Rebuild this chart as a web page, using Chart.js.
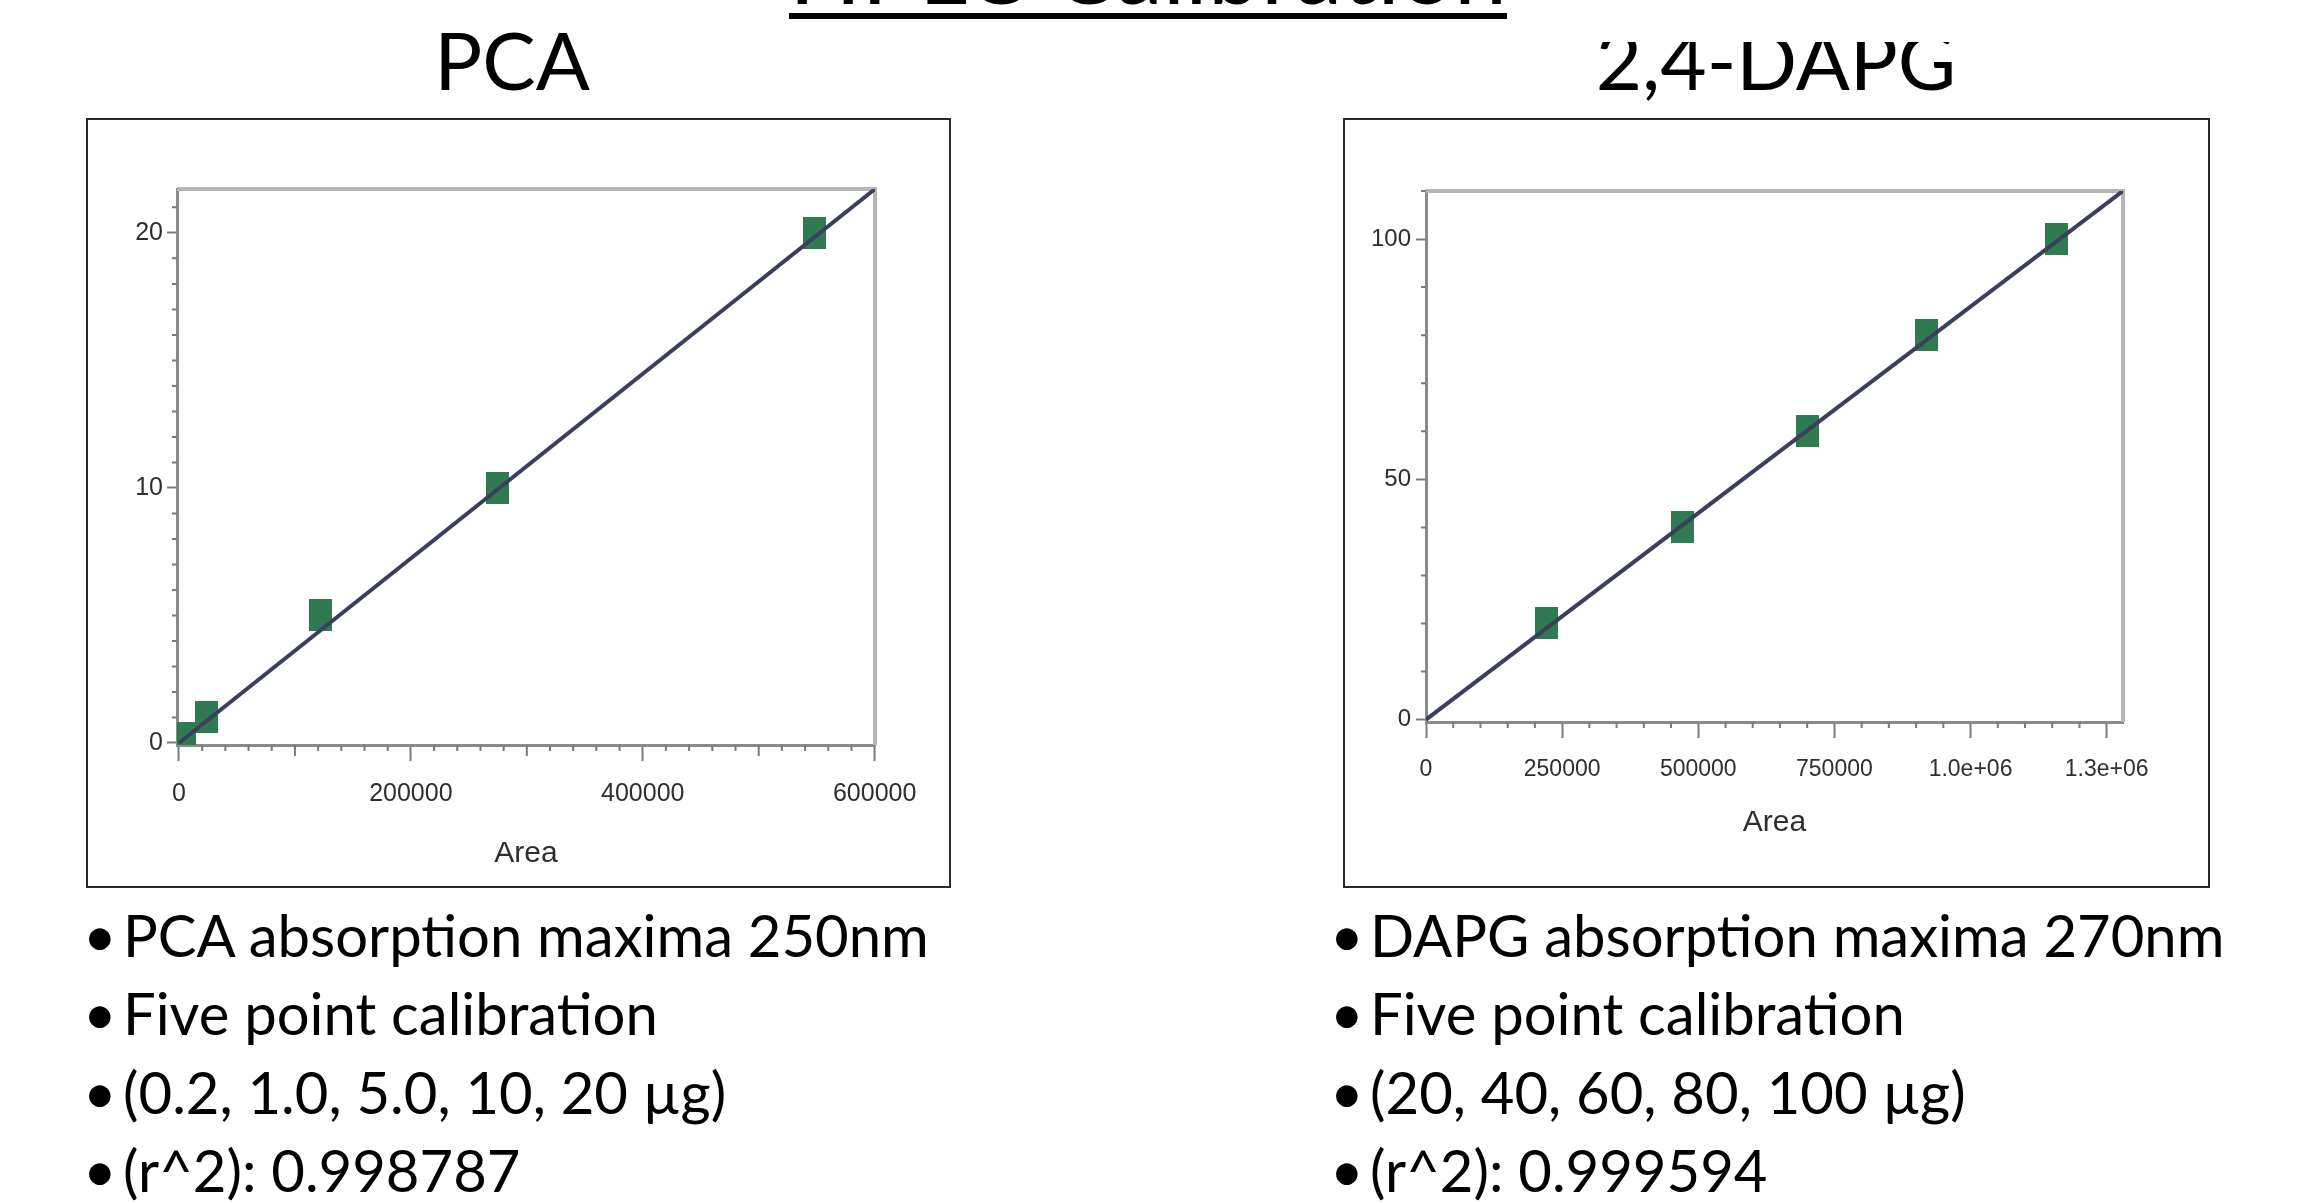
<!DOCTYPE html>
<html>
<head>
<meta charset="utf-8">
<script src="https://cdn.jsdelivr.net/npm/chart.js@4.4.0/dist/chart.umd.min.js"></script>
<style>
  html, body { margin: 0; padding: 0; background: #fff; }
  body { width: 2315px; height: 1203px; position: relative; overflow: hidden; font-family: Lato, 'Open Sans', sans-serif; color: #000; }
  .heading { position: absolute; left: 548px; width: 1200px; top: -80px; text-align: center; font-size: 95px; line-height: 95px;
             text-decoration: underline; text-decoration-thickness: 6px; text-underline-offset: 9px; }
  .sub { position: absolute; width: 400px; text-align: center; font-size: 80px; line-height: 80px; }
  .clip { position: absolute; overflow: hidden; }
  .frame { position: absolute; top: 118px; height: 770px; border: 2px solid #2a2a2a; box-sizing: border-box; }
  .frame div { position: relative; width: 100%; height: 100%; }
  .bullets { position: absolute; top: 896px; font-size: 58px; line-height: 78.3px; white-space: nowrap; }
  .bullets span { display: inline-block; width: 40px; margin-left: -4px; }
</style>
</head>
<body>
<div class="heading">HPLC Calibration</div>
<div class="sub" style="left:312px; top:19px;">PCA</div>
<div class="clip" style="left:1576px; top:42px; width:400px; height:80px;">
  <div class="sub" style="left:0; top:-23px;">2,4-DAPG</div>
</div>

<div class="frame" style="left:86px; width:865px;"><div><canvas id="pca-chart"></canvas></div></div>
<div class="frame" style="left:1343px; width:867px;"><div><canvas id="dapg-chart"></canvas></div></div>

<div class="bullets" style="left:87px;">
  <div><span>•</span>PCA absorption maxima 250nm</div>
  <div><span>•</span>Five point calibration</div>
  <div><span>•</span>(0.2, 1.0, 5.0, 10, 20 µg)</div>
  <div><span>•</span>(r^2): 0.998787</div>
</div>
<div class="bullets" style="left:1334px;">
  <div><span>•</span>DAPG absorption maxima 270nm</div>
  <div><span>•</span>Five point calibration</div>
  <div><span>•</span>(20, 40, 60, 80, 100 µg)</div>
  <div><span>•</span>(r^2): 0.999594</div>
</div>

<script>
// PCA calibration (amount vs peak area)
const pcaArea = [5000, 24000, 122000, 275000, 548000];
const pcaAmount = [0.2, 1.0, 5.0, 10, 20];
const pcaFitArea = [0, 600300];
const pcaFitAmount = [0, 21.72];
const pcaXTicks = [0, 200000, 400000, 600000];
const pcaXLabels = ['0', '200000', '400000', '600000'];
const pcaYTicks = [0, 10, 20];
const pcaYLabels = ['0', '10', '20'];

// 2,4-DAPG calibration
const dapgArea = [222000, 471000, 701000, 920000, 1158000];
const dapgAmount = [20, 40, 60, 80, 100];
const dapgFitArea = [0, 1280000];
const dapgFitAmount = [0, 110];
const dapgXTicks = [0, 250000, 500000, 750000, 1000000, 1250000];
const dapgXLabels = ['0', '250000', '500000', '750000', '1.0e+06', '1.3e+06'];
const dapgYTicks = [0, 50, 100];
const dapgYLabels = ['0', '50', '100'];

const axisFont = "'Liberation Sans', Arial, sans-serif";

// small ticks between the labelled ones
const minorTicks = {
  id: 'minorTicks',
  afterDraw(chart, args, opts) {
    const ctx = chart.ctx;
    const xs = chart.scales.x;
    const ys = chart.scales.y;
    ctx.save();
    ctx.strokeStyle = '#7a7a7a';
    ctx.lineWidth = 2;
    ctx.beginPath();
    for (const t of opts.x) {
      const px = xs.getPixelForValue(t[0]);
      ctx.moveTo(px, xs.top);
      ctx.lineTo(px, xs.top + t[1]);
    }
    for (const t of opts.y) {
      const py = ys.getPixelForValue(t[0]);
      ctx.moveTo(ys.right, py);
      ctx.lineTo(ys.right - t[1], py);
    }
    ctx.stroke();
    ctx.restore();
  }
};

// light grey top and right edges of the plot box
const plotBox = {
  id: 'plotBox',
  beforeDatasetsDraw(chart) {
    const a = chart.chartArea;
    const ctx = chart.ctx;
    ctx.save();
    ctx.strokeStyle = '#b5b5b5';
    ctx.lineWidth = 4;
    ctx.beginPath();
    ctx.moveTo(a.left, a.top);
    ctx.lineTo(a.right, a.top);
    ctx.lineTo(a.right, a.bottom);
    ctx.stroke();
    ctx.restore();
  }
};

function makeMarker() {
  const c = document.createElement('canvas');
  c.width = 23;
  c.height = 32;
  const g = c.getContext('2d');
  g.fillStyle = '#2f7a50';
  g.fillRect(0, 0, 23, 32);
  return c;
}

function buildChart(id, d) {
  const marker = makeMarker();
  return new Chart(document.getElementById(id), {
    type: 'scatter',
    data: {
      datasets: [{
        data: d.fitX.map((x, i) => ({ x: x, y: d.fitY[i] })),
        showLine: true,
        borderColor: '#3c3e5e',
        borderWidth: 4,
        pointRadius: 0,
        order: 0
      }, {
        data: d.areas.map((x, i) => ({ x: x, y: d.amounts[i] })),
        pointStyle: marker,
        pointRadius: 12,
        order: 1
      }]
    },
    options: {
      responsive: true,
      maintainAspectRatio: false,
      animation: false,
      events: [],
      layout: { padding: { top: d.padTop, right: d.padRight, left: 0, bottom: 0 } },
      plugins: {
        legend: { display: false },
        tooltip: { enabled: false },
        minorTicks: { x: d.minorX, y: d.minorY }
      },
      scales: {
        x: {
          type: 'linear',
          min: d.xMin,
          max: d.xMax,
          afterBuildTicks: axis => { axis.ticks = d.xTicks.map(v => ({ value: v })); },
          afterFit: axis => { axis.height = d.xHeight; },
          ticks: {
            callback: (v, i) => d.xLabels[i],
            autoSkip: false,
            maxRotation: 0,
            padding: 18,
            color: '#2e2e2e',
            font: { family: axisFont, size: d.xFont }
          },
          grid: { drawOnChartArea: false, tickLength: 16, tickColor: '#7a7a7a', tickWidth: 2 },
          border: { color: '#8a8a8a', width: 3 },
          title: {
            display: true,
            text: 'Area',
            color: '#2e2e2e',
            font: { family: axisFont, size: 30 },
            padding: { top: 0, bottom: d.titlePad }
          }
        },
        y: {
          type: 'linear',
          min: d.yMin,
          max: d.yMax,
          afterBuildTicks: axis => { axis.ticks = d.yTicks.map(v => ({ value: v })); },
          afterFit: axis => { axis.width = d.yWidth; },
          ticks: {
            callback: (v, i) => d.yLabels[i],
            autoSkip: false,
            padding: d.yPad,
            color: '#2e2e2e',
            font: { family: axisFont, size: d.yFont }
          },
          grid: { drawOnChartArea: false, tickLength: 10, tickColor: '#7a7a7a', tickWidth: 2 },
          border: { color: '#8a8a8a', width: 3 }
        }
      }
    },
    plugins: [minorTicks, plotBox]
  });
}

const pcaMinorX = [];
for (let v = 20000; v < 600000; v += 20000) {
  if (v % 200000 !== 0) pcaMinorX.push([v, v % 100000 === 0 ? 11 : 6]);
}
const pcaMinorY = [];
for (let v = 1; v <= 21; v++) {
  if (v % 10 !== 0) pcaMinorY.push([v, 5]);
}
const dapgMinorX = [];
for (let v = 50000; v < 1280000; v += 50000) {
  if (v % 250000 !== 0) dapgMinorX.push([v, 6]);
}
const dapgMinorY = [];
for (let v = 10; v <= 110; v += 10) {
  if (v % 50 !== 0) dapgMinorY.push([v, 5]);
}

buildChart('pca-chart', {
  areas: pcaArea, amounts: pcaAmount, fitX: pcaFitArea, fitY: pcaFitAmount,
  xTicks: pcaXTicks, xLabels: pcaXLabels, yTicks: pcaYTicks, yLabels: pcaYLabels,
  xMin: -1700, xMax: 600300, yMin: -0.08, yMax: 21.72,
  minorX: pcaMinorX, minorY: pcaMinorY,
  padTop: 69, padRight: 74, xHeight: 141, yWidth: 89, titlePad: 14,
  xFont: 25, yFont: 25, yPad: 4
});

buildChart('dapg-chart', {
  areas: dapgArea, amounts: dapgAmount, fitX: dapgFitArea, fitY: dapgFitAmount,
  xTicks: dapgXTicks, xLabels: dapgXLabels, yTicks: dapgYTicks, yLabels: dapgYLabels,
  xMin: 0, xMax: 1280000, yMin: -0.5, yMax: 110,
  minorX: dapgMinorX, minorY: dapgMinorY,
  padTop: 71, padRight: 85, xHeight: 164, yWidth: 81, titlePad: 45,
  xFont: 23, yFont: 24, yPad: 5
});
</script>
</body>
</html>
